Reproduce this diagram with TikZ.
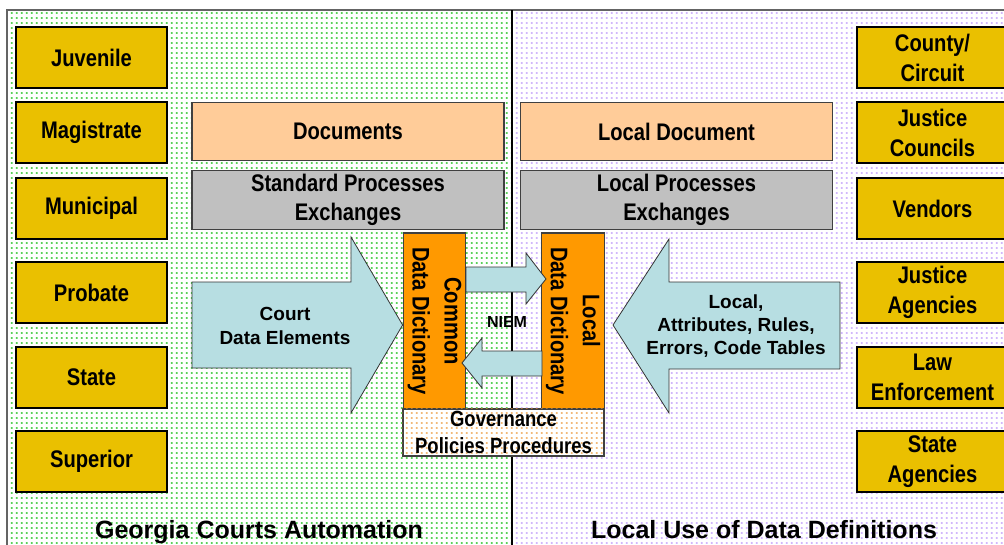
\documentclass[tikz,border=0pt]{standalone}
\usepackage{fontspec}
\setmainfont{Liberation Sans}
\newfontfamily\narrowsans{Liberation Sans}[FakeStretch=0.84]
\usepackage{xcolor}
\usetikzlibrary{positioning,
	calc,
	patterns}

\definecolor{courtgold}{RGB}{234,192,0}
\definecolor{docpeach}{RGB}{255,204,153}
\definecolor{procgray}{RGB}{192,192,192}
\definecolor{dictorange}{RGB}{255,153,0}
\definecolor{flowblue}{RGB}{183,222,226}
\definecolor{dotgreen}{RGB}{0,185,0}
\definecolor{dotlilac}{RGB}{185,145,250}
\definecolor{dotorange}{RGB}{235,150,50}
\definecolor{framegray}{RGB}{100,100,100}

\pgfdeclarepatternformonly{gcadots}{\pgfqpoint{0pt}{0pt}}{\pgfqpoint{3.75pt}{3.75pt}}{\pgfqpoint{3.75pt}{3.75pt}}{
	\pgfpathrectangle{\pgfqpoint{0.7pt}{1.3pt}}{\pgfqpoint{1.6pt}{1.1pt}}
	\pgfusepath{fill}}

\begin{document}
\begin{tikzpicture}[x=0.75pt, y=-0.75pt,
	court/.style={fill=courtgold, draw=black, line width=0.9pt, minimum width=113.25pt, minimum height=45.75pt, align=center, inner sep=0pt, font=\narrowsans\bfseries\fontsize{18}{22.5}\selectfont},
	layer/.style={draw=black!75, line width=0.8pt, minimum width=234pt, minimum height=44pt, align=center, inner sep=0pt, font=\narrowsans\bfseries\fontsize{18}{22}\selectfont},
	dict/.style={fill=dictorange, draw=black!75, line width=0.8pt, rotate=-90, minimum width=132pt, minimum height=47pt, align=center, inner sep=0pt, font=\narrowsans\bfseries\fontsize{18}{24}\selectfont},
	flow/.style={fill=flowblue, draw=black!80, line width=0.6pt, line join=miter},
	flowtext/.style={align=center, font=\bfseries\fontsize{14.25}{18}\selectfont},
	paneltitle/.style={anchor=base, font=\bfseries\fontsize{18.75}{22}\selectfont}]
\useasboundingbox (0,0) rectangle (1004,544);
\clip (0,0) rectangle (1004,544);

% panels
\fill[white] (0,0) rectangle (1004,544);
\fill[pattern=gcadots, pattern color=dotgreen] (8,11) rectangle (512,550);
\fill[pattern=gcadots, pattern color=dotlilac] (512,11) rectangle (1010,550);
\draw[framegray, line width=1.5pt] (7,560) -- (7,10) -- (1010,10);
\draw[black, line width=1.1pt] (512,10) -- (512,550);

% courts
\node (juvenile) [court] at (91.5,57.5) {Juvenile};
\node (magistrate) [court] at (91.5,132.5) {Magistrate};
\node (municipal) [court] at (91.5,208.5) {Municipal};
\node (probate) [court] at (91.5,292.5) {Probate};
\node (state) [court] at (91.5,377.5) {State};
\node (superior) [court] at (91.5,461.5) {Superior};

% local users
\node (county) [court] at (932.5,57.5) {County/\\Circuit};
\node (councils) [court] at (932.5,132.5) {Justice\\Councils};
\node (vendors) [court] at (932.5,208.5) {Vendors};
\node (agencies) [court] at (932.5,292.5) {Justice\\Agencies};
\node (lawenf) [court] at (932.5,377.5) {Law\\Enforcement};
\node (stateag) [court] at (932.5,461.5) {State\\Agencies};

\node (docs) [layer, fill=docpeach] at (348,131.5) {Documents};
\node (stdproc) [layer, fill=procgray, below=6.5pt of docs] {Standard Processes\\Exchanges};
\node (localdoc) [layer, fill=docpeach] at (676.5,131.5) {Local Document};
\node (localproc) [layer, fill=procgray, below=6.5pt of localdoc] {Local Processes\\Exchanges};

\node (commondd) [dict] at (434.5,321) {Common\\Data Dictionary};
\node (localdd) [dict] at (573,321) {Local\\Data Dictionary};
\node (governance) [draw=black!75, line width=0.8pt, fill=white, minimum width=150.75pt, minimum height=35.25pt, inner sep=0pt] at (503.5,432.5) {};
\fill[pattern=gcadots, pattern color=dotorange] (governance.north west) rectangle (governance.south east);
\node (govtext) [align=center, font=\narrowsans\bfseries\fontsize{16.5}{20}\selectfont] at (governance) {Governance\\Policies Procedures};

% flows
\draw[flow] (192,282) -- (351,282) -- (351,237) -- (commondd.south |- 0,325) -- (351,413) -- (351,368) -- (192,368) -- cycle;
\node (courtel) [flowtext] at (285,326) {Court\\Data Elements};
\draw[flow] (840,282) -- (669,282) -- (669,239) -- (613,325) -- (669,413) -- (669,369) -- (840,369) -- cycle;
\node (localattr) [flowtext, font=\bfseries\fontsize{14.25}{17.5}\selectfont] at (736,326) {Local,\\Attributes, Rules,\\Errors, Code Tables};
\draw[flow] (466,267) -- (526,267) -- (526,253) -- (546,279) -- (526,304) -- (526,292) -- (466,292) -- cycle;
\draw[flow] (542,351) -- (482,351) -- (482,338) -- (462,363) -- (482,388) -- (482,376) -- (542,376) -- cycle;
\node (niem) [font=\bfseries\fontsize{12}{14}\selectfont] at (507,322) {NIEM};

\node (gcatitle) [paneltitle] at (259,538) {Georgia Courts Automation};
\node (localtitle) [paneltitle] at (764,538) {Local Use of Data Definitions};
\end{tikzpicture}
\end{document}
